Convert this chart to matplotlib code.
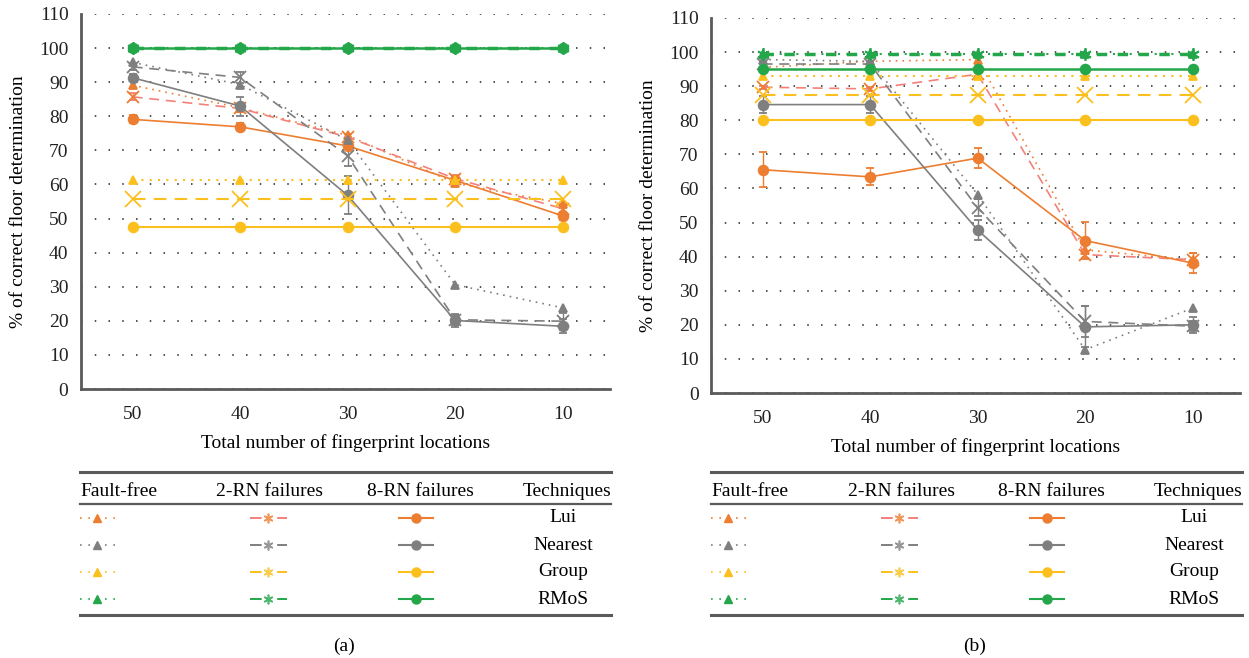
import matplotlib
matplotlib.use("Agg")
import matplotlib.pyplot as plt
import numpy as np

W, H = 1249, 658

locations  = ["50", "40", "30", "20", "10"]
techniques = ["Lui", "Nearest", "Group", "RMoS"]
scenarios  = ["Fault-free", "2-RN failures", "8-RN failures"]

# ---- panel (a) ----
a_lui_free     = [89.1, 82.5, 74.4, 60.4, 54.4]
a_lui_2rn      = [85.7, 82.3, 73.9, 61.7, 52.9]
a_lui_8rn      = [79.1, 76.9, 71.3, 61.2, 50.8]
a_nearest_free = [95.8, 89.3, 73.0, 30.6, 23.8]
a_nearest_2rn  = [94.5, 91.4, 68.4, 20.3, 19.9]
a_nearest_8rn  = [91.3, 83.0, 56.8, 20.1, 18.4]
a_group_free   = [61.2, 61.2, 61.2, 61.2, 61.2]
a_group_2rn    = [55.7, 55.7, 55.7, 55.7, 55.7]
a_group_8rn    = [47.6, 47.6, 47.6, 47.6, 47.6]
a_rmos_free    = [100, 100, 100, 100, 100]
a_rmos_2rn     = [100, 100, 100, 100, 100]
a_rmos_8rn     = [100, 100, 100, 100, 100]

a_lui_2rn_err     = [1.0, 1.0, 0.8, 1.0, 1.5]
a_lui_8rn_err     = [1.2, 1.0, 0.8, 1.0, 1.2]
a_nearest_2rn_err = [1.0, 1.5, 3.0, 1.5, 2.5]
a_nearest_8rn_err = [1.0, 2.8, 5.6, 2.0, 2.0]

# ---- panel (b) ----
b_lui_free     = [95.5, 97.3, 97.8, 42.0, 39.0]
b_lui_2rn      = [89.7, 89.2, 93.5, 40.6, 39.1]
b_lui_8rn      = [65.5, 63.4, 68.9, 44.7, 38.1]
b_nearest_free = [97.8, 97.3, 58.2, 12.7, 24.9]
b_nearest_2rn  = [96.5, 96.5, 54.3, 21.0, 19.6]
b_nearest_8rn  = [84.6, 84.6, 47.8, 19.4, 20.0]
b_group_free   = [93.0, 93.0, 93.0, 93.0, 93.0]
b_group_2rn    = [87.5, 87.5, 87.5, 87.5, 87.5]
b_group_8rn    = [80.0, 80.0, 80.0, 80.0, 80.0]
b_rmos_free    = [99.5, 99.5, 99.5, 99.5, 99.5]
b_rmos_2rn     = [99.5, 99.5, 99.5, 99.5, 99.5]
b_rmos_8rn     = [95.0, 95.0, 95.0, 95.0, 95.0]

b_lui_2rn_err     = [0.5, 0.5, 0.5, 1.0, 2.0]
b_lui_8rn_err     = [5.2, 2.5, 3.0, 5.5, 3.0]
b_nearest_2rn_err = [1.0, 1.0, 2.5, 4.5, 1.5]
b_nearest_8rn_err = [2.5, 2.5, 3.0, 6.0, 2.3]

ORANGE = "#ED7D31"
SALMON = "#F4807A"
GRAY   = "#7F7F7F"
GOLD   = "#FBBF1E"
GREEN  = "#24A74A"
AXCOL  = "#5A5A5A"

DOT  = (0, (1, 3))
DASH = (0, (6, 4))

plt.rcParams["font.family"] = ["Liberation Serif", "DejaVu Serif"]
plt.rcParams["font.size"] = 12.5


def _series(ax, x, y, err, color, ls, marker, ms, mfc=None, lw=1.2, z=2):
    ax.errorbar(x, y, yerr=err, color=color, ls=ls, lw=lw, marker=marker,
                ms=ms, mfc=mfc or color, mec=mfc or color, mew=1.3,
                ecolor=color, elinewidth=1.0, capsize=3, zorder=z)


def draw_panel(fig, rect, d):
    ax = fig.add_axes(rect)
    x = np.arange(len(locations))
    for y in range(0, 111, 10):
        ax.axhline(y, color="#222222", ls=(0, (1, 8)), lw=1.1, zorder=0)

    _series(ax, x, d["lui"][0], None, ORANGE, DOT, "^", 6)
    _series(ax, x, d["lui"][1], d["lui_err"][0], SALMON, DASH, "x", 8, ORANGE)
    _series(ax, x, d["lui"][2], d["lui_err"][1], ORANGE, "-", "o", 7)
    _series(ax, x, d["nearest"][0], None, GRAY, DOT, "^", 6)
    _series(ax, x, d["nearest"][1], d["nearest_err"][0], GRAY, DASH, "x", 8)
    _series(ax, x, d["nearest"][2], d["nearest_err"][1], GRAY, "-", "o", 7)
    _series(ax, x, d["group"][0], None, GOLD, DOT, "^", 6, lw=1.5)
    _series(ax, x, d["group"][1], None, GOLD, DASH, "x", 11, lw=1.5)
    _series(ax, x, d["group"][2], None, GOLD, "-", "o", 7, lw=1.5)
    _series(ax, x, d["rmos"][0], None, GREEN, DOT, "^", 6, lw=1.5, z=3)
    _series(ax, x, d["rmos"][1], None, GREEN, (0, (3, 3)), (6, 2, 0), 9,
            lw=2.5, z=3)
    _series(ax, x, d["rmos"][2], None, GREEN, "-", "o", 7, lw=1.8, z=3)

    ax.set_xlim(-0.48, 4.44)
    ax.set_ylim(0, 110)
    ax.set_xticks(x)
    ax.set_xticklabels(locations)
    ax.set_yticks(range(0, 111, 10))
    ax.tick_params(length=0, labelsize=14, colors="#222222")
    ax.tick_params(axis="y", pad=9)
    ax.tick_params(axis="x", pad=12)
    for s in ("top", "right"):
        ax.spines[s].set_visible(False)
    for s in ("left", "bottom"):
        ax.spines[s].set_color(AXCOL)
        ax.spines[s].set_linewidth(2)
    ax.set_ylabel("% of correct floor determination", fontsize=14, labelpad=9)
    ax.set_xlabel("Total number of fingerprint locations", fontsize=14,
                  labelpad=8)
    return ax


def draw_table(fig, left, width, caption):
    th = 198
    tax = fig.add_axes([left / W, 0, width / W, th / H])
    tax.set_xlim(0, width)
    tax.set_ylim(th, 0)
    tax.axis("off")

    tax.plot([0, width], [12, 12], color=AXCOL, lw=2.2, clip_on=False)
    tax.plot([0, width], [44, 44], color=AXCOL, lw=1.6, clip_on=False)
    tax.plot([0, width], [155, 155], color=AXCOL, lw=2.2, clip_on=False)

    hy = 31
    tax.text(0, hy, scenarios[0], ha="left", va="center", fontsize=14)
    tax.text(190, hy, scenarios[1], ha="center", va="center", fontsize=14)
    tax.text(340, hy, scenarios[2], ha="center", va="center", fontsize=14)
    tax.text(width, hy, "Techniques", ha="right", va="center", fontsize=14)

    colors = [(ORANGE, SALMON, ORANGE), (GRAY, GRAY, GRAY),
              (GOLD, GOLD, GOLD), (GREEN, GREEN, GREEN)]
    for i, name in enumerate(techniques):
        ry = 58 + i * 27
        c0, c1, c2 = colors[i]
        tax.plot([0, 36], [ry, ry], color=c0, ls=(0, (1, 4)), lw=1.2)
        tax.plot([17], [ry], color=c0, marker="^", ms=6)
        tax.plot([170, 207], [ry, ry], color=c1, ls=(0, (6, 8)), lw=1.4)
        tax.plot([188], [ry], color=c1 if i else ORANGE, marker=(6, 2, 0),
                 ms=7, mew=1.2, alpha=0.8)
        tax.plot([319, 353], [ry, ry], color=c2, lw=1.5)
        tax.plot([336], [ry], color=c2, marker="o", ms=6.5)
        tax.text(width - 48, ry, name, ha="center", va="center", fontsize=14)

    tax.text(width / 2 - 2, 186, caption, ha="center", va="center",
             fontsize=14)


if __name__ == "__main__":
    fig = plt.figure(figsize=(W / 100, H / 100), dpi=100)

    panel_a = dict(
        lui=(a_lui_free, a_lui_2rn, a_lui_8rn),
        nearest=(a_nearest_free, a_nearest_2rn, a_nearest_8rn),
        group=(a_group_free, a_group_2rn, a_group_8rn),
        rmos=(a_rmos_free, a_rmos_2rn, a_rmos_8rn),
        lui_err=(a_lui_2rn_err, a_lui_8rn_err),
        nearest_err=(a_nearest_2rn_err, a_nearest_8rn_err),
    )
    panel_b = dict(
        lui=(b_lui_free, b_lui_2rn, b_lui_8rn),
        nearest=(b_nearest_free, b_nearest_2rn, b_nearest_8rn),
        group=(b_group_free, b_group_2rn, b_group_8rn),
        rmos=(b_rmos_free, b_rmos_2rn, b_rmos_8rn),
        lui_err=(b_lui_2rn_err, b_lui_8rn_err),
        nearest_err=(b_nearest_2rn_err, b_nearest_8rn_err),
    )

    # axes rectangles from pixel positions of the reference
    draw_panel(fig, [81 / W, 1 - 389 / H, 529 / W, 375 / H], panel_a)
    draw_panel(fig, [711 / W, 1 - 393 / H, 529 / W, 375 / H], panel_b)

    draw_table(fig, 80, 531, "(a)")
    draw_table(fig, 711, 531, "(b)")

    fig.savefig("out.png", dpi=100)
